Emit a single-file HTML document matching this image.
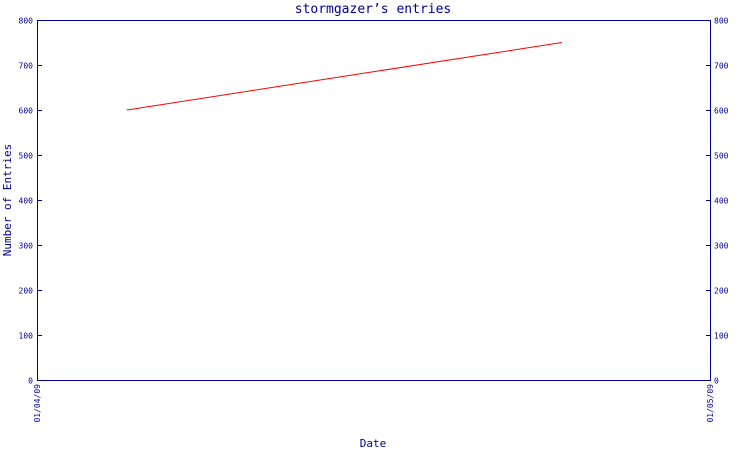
<!DOCTYPE html>
<html><head><meta charset="utf-8"><style>
body{margin:0;background:#fff;}
svg{display:block;font-family:"DejaVu Sans Mono","Liberation Mono",monospace;}
</style></head><body>
<svg id="chart" width="750" height="450">
<text x="373" y="13" text-anchor="middle" font-size="13" fill="#000099">stormgazer’s entries</text>
<text x="373" y="447" text-anchor="middle" font-size="11" fill="#000099">Date</text>
<text transform="translate(11,200) rotate(-90)" text-anchor="middle" font-size="11" fill="#000099">Number of Entries</text>
<g id="axes"></g>
</svg>
<script>
const xLabels=["01/04/09","01/05/09"];
const xLabelDays=[0,30];
const yTicks=[0,100,200,300,400,500,600,700,800];
const seriesDays=[4,23.4];
const seriesValues=[600,750];
const L=37,R=710,T=20,B=380;
const xs=d=>L+(R-L)*d/30;
const ys=v=>B-(B-T)*v/800;
const NS="http://www.w3.org/2000/svg";
const g=document.getElementById('axes');
function mk(t,a){const e=document.createElementNS(NS,t);for(const k in a)e.setAttribute(k,a[k]);g.appendChild(e);return e;}
const frame=mk('rect',{x:L+0.5,y:T+0.5,width:R-L,height:B-T,fill:'none',stroke:'#000099','stroke-width':1});


yTicks.forEach(v=>{
 const y=Math.round(ys(v))+0.5;
 const t1=mk('line',{x1:L,x2:L+5,y1:y,y2:y,stroke:'#000099'});
 
 
 const t2=mk('line',{x1:R-4,x2:R+1,y1:y,y2:y,stroke:'#000099'});
 
 
 const a=mk('text',{x:L-4,y:y+3,'text-anchor':'end','font-size':8,fill:'#000099'});a.textContent=v;
 
 
 const b=mk('text',{x:R+4,y:y+3,'text-anchor':'start','font-size':8,fill:'#000099'});b.textContent=v;
 
 
});
xLabels.forEach((s,i)=>{
 const x=xs(xLabelDays[i]);
 const t=mk('text',{transform:`translate(${x+3},${B+4}) rotate(-90)`,'text-anchor':'end','font-size':8,fill:'#000099'});t.textContent=s;
 
 
});
const pts=seriesDays.map((d,i)=>xs(d)+','+ys(seriesValues[i])).join(' ');
const line=mk('polyline',{points:pts,fill:'none',stroke:'#ff0000','stroke-width':1});


</script>
</body></html>
